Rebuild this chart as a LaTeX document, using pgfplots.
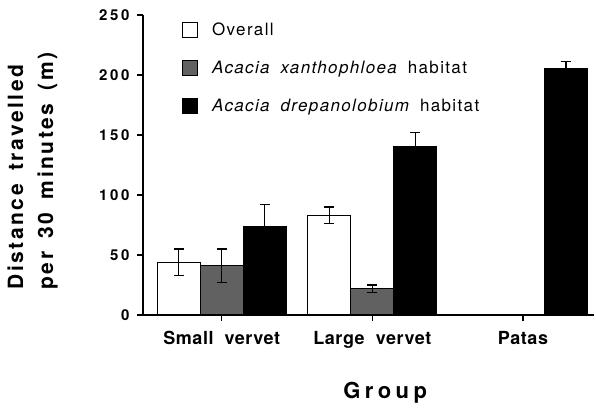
\documentclass[border=0pt]{standalone}
\usepackage{fontspec}
\setmainfont{TeX Gyre Heros}
\newfontfamily\ytfont[LetterSpace=18]{TeX Gyre Heros}
\newfontfamily\xtfont[LetterSpace=3,WordSpace=2]{TeX Gyre Heros}
\newfontfamily\ylfont[LetterSpace=12,WordSpace=1.6]{TeX Gyre Heros}
\newfontfamily\xlfont[LetterSpace=20]{TeX Gyre Heros}
\newfontfamily\lgfont[LetterSpace=8,WordSpace=1.8]{TeX Gyre Heros}
\usepackage{pgfplots}
\pgfplotsset{compat=1.18}
\begin{document}
\begin{tikzpicture}
\useasboundingbox (-143pt,-93pt) rectangle (453pt,315pt);
\begin{axis}[
  scale only axis, width=451pt, height=300pt,
  xmin=-0.523, xmax=2.472, ymin=0, ymax=250,
  axis x line=bottom, axis y line=left,
  axis line style={line width=1.2pt,-},
  tick style={line width=1.2pt,black},
  tick align=outside, major tick length=6pt,
  ytick={0,50,100,150,200,250},
  xtick={0,1,2}, xticklabels={Small vervet,Large vervet,Patas},
  /pgf/number format/assume math mode=true,
  yticklabel style={font=\ytfont\bfseries\fontsize{15}{18}\selectfont, xshift=-4pt},
  xticklabel style={font=\xtfont\bfseries\fontsize{18}{21}\selectfont, yshift=-7pt},
  ylabel={Distance travelled\\per 30 minutes (m)},
  ylabel style={font=\ylfont\bfseries\fontsize{21}{30}\selectfont, align=left,
    at={(axis description cs:-0.245,0.48)}, anchor=center},
  xlabel={Group},
  xlabel style={font=\xlfont\bfseries\fontsize{22}{26}\selectfont,
    at={(axis description cs:0.537,-0.277)}, anchor=base},
  ybar=0pt, bar width=43pt,
  legend image code/.code={\draw[#1,line width=1.2pt] (0pt,-7.5pt) rectangle (15pt,7.5pt);
    \path (27pt,0pt);},
  legend style={at={(axis description cs:0.0858,0.98)}, anchor=north west,
    draw=none, fill=none, inner sep=0pt, row sep=20pt,
    font=\lgfont\fontsize{17}{20}\selectfont},
  legend cell align=left,
  error bars/y dir=both, error bars/y explicit,
  error bars/error mark options={rotate=90,line width=1.2pt,mark size=5pt,black},
  error bars/error bar style={line width=1.2pt,black},
]
\addplot[draw=black,line width=1.2pt,fill=white] coordinates {
  (0,44) +- (0,11)
  (1,83) +- (0,7)
};
\addlegendentry{Overall}
\addplot[draw=black,line width=1.2pt,fill=black!62] coordinates {
  (0,41) +- (0,14)
  (1,22) +- (0,3)
};
\addlegendentry{{\itshape Acacia xanthophloea} habitat}
\addplot[draw=black,line width=1.2pt,fill=black] coordinates {
  (0,74) +- (0,18)
  (1,140) +- (0,12)
  (2,205) +- (0,6)
};
\addlegendentry{{\itshape Acacia drepanolobium} habitat}
\end{axis}
\end{tikzpicture}
\end{document}
